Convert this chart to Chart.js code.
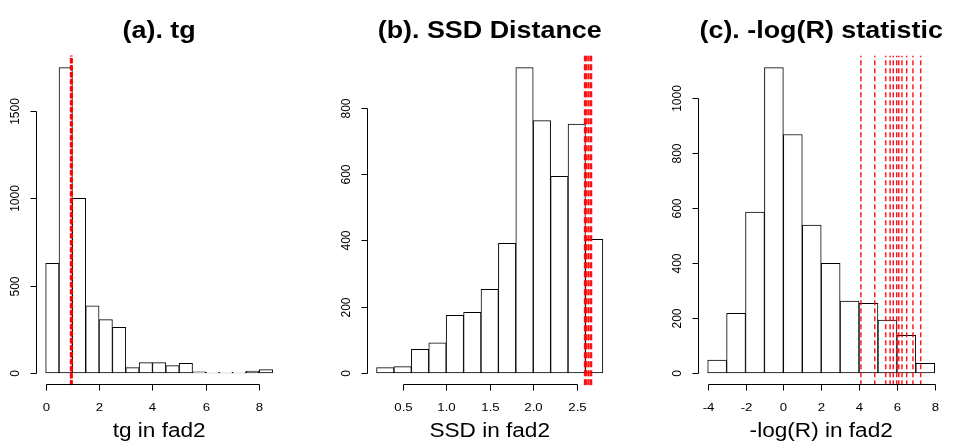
<!DOCTYPE html>
<html>
<head>
  <meta charset="UTF-8">
  <title>fad2 histograms</title>
  <script src="https://cdn.jsdelivr.net/npm/chart.js"></script>
  <style>
    body { margin: 0; background: #fff; }
    #wrap { position: relative; width: 956px; height: 443px; }
    canvas { position: absolute; top: 0; }
  </style>
</head>
<body>
  <div id="wrap">
    <canvas id="c1" width="318" height="443" style="left:0"></canvas>
    <canvas id="c2" width="319" height="443" style="left:318px"></canvas>
    <canvas id="c3" width="319" height="443" style="left:637px"></canvas>
  </div>

  <script>
    // (a) tg
    const tgEdges = [0, 0.5, 1, 1.5, 2, 2.5, 3, 3.5, 4, 4.5, 5, 5.5, 6, 6.5, 7, 7.5, 8, 8.5];
    const tgCounts = [628, 1748, 1000, 385, 305, 261, 31, 59, 59, 42, 55, 6, 4, 4, 4, 11, 19];
    const tgLines = [0.95, 0.96, 0.97];
    const tgXTicks = [0, 2, 4, 6, 8];
    const tgYTicks = [0, 500, 1000, 1500];

    // (b) SSD distance
    const ssdEdges = [0.2, 0.4, 0.6, 0.8, 1.0, 1.2, 1.4, 1.6, 1.8, 2.0, 2.2, 2.4, 2.6, 2.8];
    const ssdCounts = [16, 19, 71, 91, 174, 183, 252, 391, 921, 761, 593, 751, 403];
    const ssdLines = [2.59, 2.60, 2.61, 2.63, 2.64, 2.66, 2.67];
    const ssdXTicks = [0.5, 1.0, 1.5, 2.0, 2.5];
    const ssdYTicks = [0, 200, 400, 600, 800];

    // (c) -log(R)
    const lrEdges = [-4, -3, -2, -1, 0, 1, 2, 3, 4, 5, 6, 7, 8];
    const lrCounts = [47, 217, 585, 1110, 867, 538, 399, 261, 253, 192, 137, 35];
    const lrLines = [4.10, 4.83, 5.41, 5.64, 5.81, 5.99, 6.10, 6.27, 6.52, 6.85, 7.26];
    const lrXTicks = [-4, -2, 0, 2, 4, 6, 8];
    const lrYTicks = [0, 200, 400, 600, 800, 1000];

    const FONT = '"Liberation Sans", Arial, sans-serif';
    const SX = 1.2; // text in the picture is a bit stretched sideways

    function stretchText(ctx, txt, x, y, sx) {
      ctx.save();
      ctx.translate(x, y);
      ctx.scale(sx, 1);
      ctx.fillText(txt, 0, 0);
      ctx.restore();
    }

    // R style axes, title and axis label
    const rAxes = {
      id: 'rAxes',
      afterDraw(chart, args, o) {
        const ctx = chart.ctx, a = chart.chartArea;
        const xs = chart.scales.x, ys = chart.scales.y;
        ctx.save();
        ctx.strokeStyle = '#000';
        ctx.fillStyle = '#000';
        ctx.lineWidth = 1;

        // x axis
        const by = Math.round(a.bottom) - 0.5;
        const xp = o.xTicks.map(v => Math.round(xs.getPixelForValue(v)) + 0.5);
        ctx.beginPath();
        ctx.moveTo(xp[0], by); ctx.lineTo(xp[xp.length - 1], by);
        xp.forEach(p => { ctx.moveTo(p, by); ctx.lineTo(p, by + 6); });
        ctx.stroke();
        ctx.font = '11px ' + FONT;
        ctx.textAlign = 'center';
        ctx.textBaseline = 'middle';
        o.xTicks.forEach((v, i) => stretchText(ctx, o.xFmt(v), xp[i], by + 23, SX));

        // y axis
        const lx = Math.round(a.left) - 0.5;
        const yp = o.yTicks.map(v => Math.round(ys.getPixelForValue(v)) + 0.5);
        ctx.beginPath();
        ctx.moveTo(lx, yp[0]); ctx.lineTo(lx, yp[yp.length - 1]);
        yp.forEach(p => { ctx.moveTo(lx, p); ctx.lineTo(lx - 6, p); });
        ctx.stroke();
        ctx.font = '12px ' + FONT;
        o.yTicks.forEach((v, i) => {
          ctx.save();
          ctx.translate(lx - 21, yp[i]);
          ctx.rotate(-Math.PI / 2);
          ctx.scale(1, 1.1);
          ctx.fillText(String(v), 0, 0);
          ctx.restore();
        });

        // title and x label
        const cx = (a.left + a.right) / 2;
        ctx.textBaseline = 'alphabetic';
        ctx.font = 'bold 24px ' + FONT;
        stretchText(ctx, o.title, cx, 38, 1.12);
        ctx.font = '20px ' + FONT;
        stretchText(ctx, o.xTitle, cx, 437, 1.13);
        ctx.restore();
      }
    };

    function makeHist(id, edges, counts, lines, opts) {
      const mids = counts.map((c, i) => ({ x: (edges[i] + edges[i + 1]) / 2, y: c }));
      const xr = edges[edges.length - 1] - edges[0];
      const xMin = edges[0] - 0.04 * xr, xMax = edges[edges.length - 1] + 0.04 * xr;
      const top = Math.max(...counts);
      const yMin = -0.04 * top, yMax = 1.04 * top;

      const lineSets = lines.map(v => ({
        type: 'line',
        data: [{ x: v, y: yMin }, { x: v, y: yMax }],
        borderColor: 'rgba(255,0,0,0.9)',
        borderWidth: opts.lw,
        borderDash: opts.dash,
        pointRadius: 0,
        order: 0
      }));

      return new Chart(document.getElementById(id), {
        type: 'bar',
        data: {
          datasets: [{
            data: mids,
            backgroundColor: '#fff',
            borderColor: '#000',
            borderWidth: 1,
            borderSkipped: false,
            barPercentage: 1,
            categoryPercentage: 1,
            order: 1
          }, ...lineSets]
        },
        options: {
          responsive: false,
          animation: false,
          layout: { padding: opts.pad },
          plugins: {
            legend: { display: false },
            tooltip: { enabled: false },
            rAxes: opts
          },
          scales: {
            x: { type: 'linear', min: xMin, max: xMax, offset: false, display: false },
            y: { min: yMin, max: yMax, display: false }
          }
        },
        plugins: [rAxes]
      });
    }

    makeHist('c1', tgEdges, tgCounts, tgLines, {
      pad: { left: 36.6, right: 36.3, top: 55.4, bottom: 57.8 },
      xTicks: tgXTicks, yTicks: tgYTicks, xFmt: v => String(v),
      title: '(a). tg', xTitle: 'tg in fad2', lw: 2.5, dash: [5, 2]
    });
    makeHist('c2', ssdEdges, ssdCounts, ssdLines, {
      pad: { left: 49.5, right: 25.1, top: 55.4, bottom: 57.8 },
      xTicks: ssdXTicks, yTicks: ssdYTicks, xFmt: v => v.toFixed(1),
      title: '(b). SSD Distance', xTitle: 'SSD in fad2', lw: 1.5, dash: [6, 3]
    });
    makeHist('c3', lrEdges, lrCounts, lrLines, {
      pad: { left: 61.6, right: 12.2, top: 55.4, bottom: 57.8 },
      xTicks: lrXTicks, yTicks: lrYTicks, xFmt: v => String(v),
      title: '(c). -log(R) statistic', xTitle: '-log(R) in fad2', lw: 1.5, dash: [5, 3]
    });
  </script>
</body>
</html>
